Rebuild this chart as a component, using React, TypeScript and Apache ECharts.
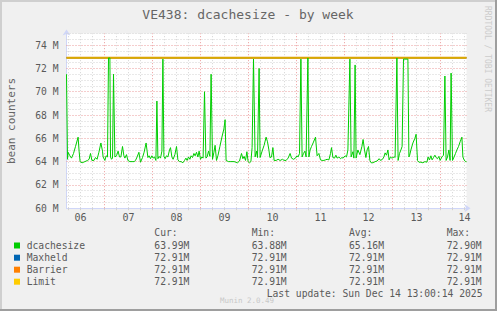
import React, { useEffect, useRef } from 'react';
import * as echarts from 'echarts';

// time in hours since Dec 06 00:00
const HOURS = [
  5.0, 5.5, 5.8, 6.7, 7.5, 8.5, 9.5, 10.8, 11.3, 11.8, 12.8, 14.2, 15.5, 16.3, 17, 17.7, 18.7, 19.5, 20.3, 21.2,
  22.2, 23, 23.3, 24.2, 24.8, 25.5, 26, 26.7, 27, 27.5, 28, 28.5, 29.2, 30, 30.8, 31.5, 32.2, 33, 33.7, 34.2,
  35, 35.7, 36.7, 37.8, 38.8, 39.5, 40.3, 41.2, 42, 43, 43.8, 44.8, 45.7, 46.3, 47, 47.7, 48.3, 49, 49.7, 50.2,
  50.7, 51.3, 52, 52.7, 53.2, 53.7, 54.3, 55, 55.7, 56.5, 57, 57.7, 58.3, 59.2, 60, 60.7, 61.5, 62.3, 63.2, 64,
  64.7, 65.3, 66, 66.7, 67.3, 68, 68.7, 69.3, 70, 70.7, 71.3, 72, 72.7, 73.3, 74, 74.7, 75.3, 76, 76.7, 77.3,
  78, 78.7, 79.3, 80, 80.7, 81.7, 82.7, 83.7, 84.3, 84.8, 86, 87.2, 88.8, 90.5, 91.5, 92.5, 93.2, 93.8, 94.5, 95.2,
  95.8, 96.5, 97.2, 97.8, 98.5, 99.3, 100, 100.5, 101.3, 101.8, 102.8, 103.8, 104.8, 105.5, 106.2, 106.7, 107.5, 108.2, 108.8, 109.8,
  110.8, 111.8, 113, 113.8, 114.8, 115.8, 116.8, 117.5, 118.5, 119.5, 120.2, 120.8, 121.5, 122.2, 122.8, 123.5, 124.2, 124.8, 125.7, 126.2,
  126.8, 127.5, 128.3, 129.5, 130.3, 131.2, 132, 132.8, 133.7, 134.5, 135.3, 136.2, 137, 137.5, 138.2, 139, 139.7, 140.3, 141.2, 142,
  142.7, 143.3, 144.3, 145, 145.7, 146.7, 147.3, 148.2, 148.7, 149.3, 149.8, 150.7, 151.7, 152.7, 153.3, 154, 154.7, 155.3, 156, 156.7,
  157.3, 158.3, 159.3, 160.3, 161.3, 162, 163, 163.7, 164.3, 165, 165.7, 166.3, 167, 167.7, 168.3, 169, 169.3, 170.2, 170.8, 171.5,
  172.2, 172.8, 173.5, 175.7, 176.2, 176.5, 177.2, 178.2, 179.2, 179.8, 180.5, 181.2, 182.2, 183.2, 184.2, 185.2, 185.8, 186.5, 187.2, 187.8,
  188.5, 189.2, 189.8, 190.5, 191.2, 191.8, 192.7, 193.5, 194.2, 194.8, 195.5, 196.2, 196.8, 197.3, 198, 198.8, 199.5, 200.2, 201, 201.8,
  202.7, 203.2, 203.8, 204.5, 205,
];

const DCACHESIZE = [
  71.5, 64.2, 64.8, 64.5, 64.3, 64.7, 65.3, 66.1, 64.9, 64.0, 63.9, 64.0, 64.1, 64.2, 64.7, 64.1, 64.1, 64.35, 64.2, 64.8,
  65.6, 64.9, 64.4, 64.1, 64.5, 64.4, 72.9, 72.9, 64.4, 64.2, 64.3, 71.5, 64.4, 64.5, 64.9, 64.4, 64.4, 65.3, 64.5, 64.3,
  64.6, 64.1, 64.0, 64.0, 64.0, 64.1, 64.4, 64.8, 63.95, 64.35, 64.8, 65.6, 64.35, 64.5, 64.25, 64.5, 64.3, 64.4, 64.1, 69.2,
  64.25, 64.45, 64.3, 64.9, 72.8, 64.45, 64.25, 64.5, 64.4, 65.0, 65.2, 64.4, 64.2, 64.6, 65.3, 64.15, 64.0, 64.0, 63.9, 64.1,
  64.3, 64.1, 64.4, 64.2, 64.5, 64.35, 64.7, 64.5, 64.8, 64.4, 64.9, 64.2, 64.4, 64.3, 70.0, 64.3, 64.4, 64.9, 64.45, 71.5,
  64.2, 64.8, 65.4, 64.1, 64.5, 65.3, 66.1, 66.8, 67.6, 64.1, 64.0, 64.0, 64.0, 63.9, 64.05, 64.7, 64.25, 64.45, 64.1, 64.85,
  64.0, 63.9, 64.0, 65.2, 72.8, 64.4, 64.9, 64.35, 72.0, 64.35, 64.9, 65.4, 66.1, 65.7, 65.0, 64.35, 64.4, 65.2, 64.1, 64.1,
  64.2, 64.1, 64.2, 64.1, 64.1, 64.3, 64.7, 64.3, 64.2, 64.3, 64.5, 64.4, 64.7, 72.8, 64.4, 64.7, 64.9, 64.4, 72.9, 64.4,
  65.0, 65.3, 65.6, 66.1, 64.5, 64.7, 64.15, 64.1, 64.1, 64.15, 64.2, 64.15, 64.7, 65.2, 64.35, 64.3, 64.55, 64.3, 64.4, 64.25,
  64.35, 64.3, 64.5, 64.4, 65.0, 72.8, 64.4, 64.85, 64.3, 72.3, 64.3, 65.0, 64.6, 65.3, 65.9, 65.0, 64.35, 65.0, 65.3, 64.1,
  63.9, 63.9, 64.0, 64.05, 64.25, 64.1, 64.2, 64.4, 64.75, 64.55, 65.0, 64.15, 64.4, 64.3, 64.35, 64.4, 64.35, 72.9, 64.1, 64.7,
  65.0, 65.3, 72.8, 72.8, 64.4, 64.5, 65.0, 65.6, 66.0, 66.35, 64.1, 63.95, 63.95, 63.9, 64.0, 63.95, 64.4, 64.15, 64.5, 64.15,
  64.35, 64.55, 64.35, 64.25, 64.45, 64.1, 64.4, 64.55, 71.35, 64.1, 64.4, 65.0, 64.1, 71.6, 64.1, 64.4, 64.7, 65.0, 65.3, 65.7,
  66.1, 64.4, 64.15, 64.0, 63.99,
];

const FLAT_HOURS = [5, 205];
const MAXHELD = [72.91, 72.91];
const BARRIER = [72.91, 72.91];
const LIMIT = [72.91, 72.91];

const DAY_LABELS = ['06', '07', '08', '09', '10', '11', '12', '13', '14'];
const DAY_LABEL_HOURS = [12, 36, 60, 84, 108, 132, 156, 180, 204];

const LEGEND_NAMES = ['dcachesize', 'Maxheld', 'Barrier', 'Limit'];
const LEGEND_COLORS = ['#00cc00', '#0066b3', '#ff8000', '#ffcc00'];
const CUR_VALUES = ['63.99M', '72.91M', '72.91M', '72.91M'];
const MIN_VALUES = ['63.88M', '72.91M', '72.91M', '72.91M'];
const AVG_VALUES = ['65.16M', '72.91M', '72.91M', '72.91M'];
const MAX_VALUES = ['72.90M', '72.91M', '72.91M', '72.91M'];
const COLUMN_HEADERS = ['Cur:', 'Min:', 'Avg:', 'Max:'];

const MONO = '"DejaVu Sans Mono", monospace';
const TEXT_COLOR = '#5a5a5a';
const GRID_GREY = '#d2d2d2';
const GRID_RED = '#eb9a9a';
const AXIS_COLOR = '#cfd6f8';

export default function App() {
  const ref = useRef<HTMLDivElement>(null);

  useEffect(() => {
    if (!ref.current) return;
    const chart = echarts.init(ref.current, null, { renderer: 'svg' });

    const gridLines: any[] = [];
    for (let h = 6; h < 205; h += 6) {
      const red = h % 24 === 0;
      gridLines.push({
        xAxis: h,
        lineStyle: { color: red ? GRID_RED : GRID_GREY, type: [1, 2], width: 1 },
      });
    }
    for (let v = 60.5; v <= 75; v += 0.5) {
      const red = v % 2 === 0;
      gridLines.push({
        yAxis: v,
        lineStyle: { color: red ? GRID_RED : GRID_GREY, type: [1, 2], width: 1 },
      });
    }

    const colX = [154.3, 251.7, 349, 446.7];
    const rowY = [245, 257.2, 269.2, 281.2];
    const graphic: any[] = [];
    graphic.push(
      { type: 'rect', shape: { x: 0, y: 0, width: 497, height: 2 }, style: { fill: '#cfcfcf' }, silent: true },
      { type: 'rect', shape: { x: 0, y: 0, width: 2, height: 311 }, style: { fill: '#cfcfcf' }, silent: true },
      { type: 'rect', shape: { x: 0, y: 309, width: 497, height: 2 }, style: { fill: '#9e9e9e' }, silent: true },
      { type: 'rect', shape: { x: 495, y: 0, width: 2, height: 311 }, style: { fill: '#9e9e9e' }, silent: true },
    );
    graphic.push({
      type: 'text', x: 248, y: 14,
      style: { text: 'VE438: dcachesize - by week', font: `13px ${MONO}`, fill: '#666', textAlign: 'center', textVerticalAlign: 'middle' },
    });
    graphic.push({
      type: 'text', x: 11.5, y: 121, rotation: Math.PI / 2,
      style: { text: 'bean counters', font: `11px ${MONO}`, fill: '#666', textAlign: 'center', textVerticalAlign: 'middle' },
    });
    graphic.push({
      type: 'text', x: 487, y: 59, rotation: -Math.PI / 2,
      style: { text: 'RRDTOOL / TOBI OETIKER', font: `8px ${MONO}`, fill: '#cccccc', textAlign: 'center', textVerticalAlign: 'middle' },
    });
    COLUMN_HEADERS.forEach((h, i) => {
      graphic.push({
        type: 'text', x: colX[i], y: 232.3,
        style: { text: h, font: `9.7px ${MONO}`, fill: TEXT_COLOR, textAlign: 'left', textVerticalAlign: 'middle' },
      });
    });
    LEGEND_NAMES.forEach((name, r) => {
      graphic.push({
        type: 'rect', shape: { x: 14, y: rowY[r] - 2.5, width: 6, height: 6 }, style: { fill: LEGEND_COLORS[r] },
      });
      graphic.push({
        type: 'text', x: 26.7, y: rowY[r],
        style: { text: name, font: `9.7px ${MONO}`, fill: TEXT_COLOR, textAlign: 'left', textVerticalAlign: 'middle' },
      });
      [CUR_VALUES, MIN_VALUES, AVG_VALUES, MAX_VALUES].forEach((col, c) => {
        graphic.push({
          type: 'text', x: colX[c], y: rowY[r],
          style: { text: col[r], font: `9.7px ${MONO}`, fill: TEXT_COLOR, textAlign: 'left', textVerticalAlign: 'middle' },
        });
      });
    });
    graphic.push({
      type: 'text', x: 482.5, y: 293.3,
      style: { text: 'Last update: Sun Dec 14 13:00:14 2025', font: `9.7px ${MONO}`, fill: TEXT_COLOR, textAlign: 'right', textVerticalAlign: 'middle' },
    });
    graphic.push({
      type: 'text', x: 247, y: 300.7,
      style: { text: 'Munin 2.0.49', font: `7.5px ${MONO}`, fill: '#c8c8c8', textAlign: 'center', textVerticalAlign: 'middle' },
    });

    const pairs = (xs: number[], ys: number[]) => xs.map((x, i) => [x, ys[i]]);

    chart.setOption({
      animation: false,
      backgroundColor: '#f0f0f0',
      grid: {
        left: 66.5, top: 33.5, width: 400, height: 174.7,
        show: true, backgroundColor: '#ffffff', borderWidth: 0,
      },
      xAxis: {
        type: 'value', min: 5, max: 205,
        splitLine: { show: false },
        axisLine: {
          show: true, lineStyle: { color: AXIS_COLOR, width: 1 },
          symbol: ['none', 'arrow'], symbolSize: [6, 6], symbolOffset: [0, 4],
        },
        axisTick: {
          show: true, length: 2, lineStyle: { color: GRID_GREY },
          customValues: [6, 12, 18, 24, 30, 36, 42, 48, 54, 60, 66, 72, 78, 84, 90, 96, 102, 108, 114, 120, 126, 132, 138, 144, 150, 156, 162, 168, 174, 180, 186, 192, 198, 204],
        },
        axisLabel: {
          customValues: DAY_LABEL_HOURS,
          formatter: (v: number) => DAY_LABELS[DAY_LABEL_HOURS.indexOf(v)] ?? '',
          color: TEXT_COLOR, fontFamily: MONO, fontSize: 10, margin: 4,
        },
      },
      yAxis: {
        type: 'value', min: 60, max: 75, interval: 2,
        splitLine: { show: false },
        axisLine: {
          show: true, lineStyle: { color: AXIS_COLOR, width: 1 },
          symbol: ['none', 'arrow'], symbolSize: [6, 6], symbolOffset: [0, 4],
        },
        axisTick: { show: false },
        axisLabel: {
          showMaxLabel: false,
          formatter: (v: number) => (v === 75 ? '' : `${v} M`),
          color: TEXT_COLOR, fontFamily: MONO, fontSize: 9.7, margin: 8,
        },
      },
      series: [
        {
          type: 'line', data: pairs(FLAT_HOURS, MAXHELD), symbol: 'none', z: 3,
          lineStyle: { color: '#0066b3', width: 1 },
          markLine: { silent: true, z: 1, symbol: 'none', label: { show: false }, data: gridLines, animation: false },
        },
        { type: 'line', data: pairs(FLAT_HOURS, BARRIER), symbol: 'none', z: 3, lineStyle: { color: '#e08a00', width: 2 } },
        { type: 'line', data: pairs(FLAT_HOURS, LIMIT), symbol: 'none', z: 4, lineStyle: { color: '#d8b400', width: 1.4 } },
        { type: 'line', data: pairs(HOURS, DCACHESIZE), symbol: 'none', z: 5, lineStyle: { color: '#00cc00', width: 1 } },
      ],
      graphic,
    });

    return () => chart.dispose();
  }, []);

  return <div ref={ref} style={{ position: 'absolute', left: 0, top: 0, width: 497, height: 311 }} />;
}
